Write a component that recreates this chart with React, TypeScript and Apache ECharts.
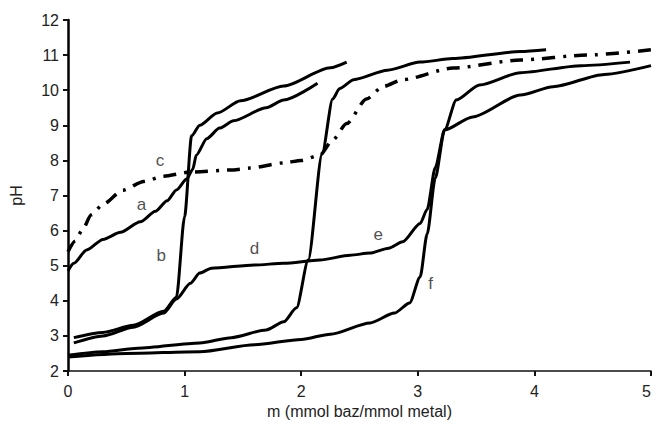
import React, { useEffect, useRef } from "react";
import * as echarts from "echarts";

const xTicks = [0, 1, 2, 3, 4, 5];
const yTicks = [2, 3, 4, 5, 6, 7, 8, 9, 10, 11, 12];

const curveA = [
  [0, 4.85], [0.05, 5.07], [0.16, 5.45], [0.3, 5.75], [0.45, 5.95], [0.62, 6.25],
  [0.75, 6.55], [0.85, 6.85], [0.93, 7.16], [1.02, 7.48], [1.07, 7.75], [1.1, 8.15],
  [1.19, 8.62], [1.3, 8.92], [1.42, 9.13], [1.7, 9.5], [1.85, 9.72], [2.14, 10.2],
];
const curveB = [
  [0.05, 2.95], [0.3, 3.1], [0.56, 3.3], [0.82, 3.7], [0.93, 4.1], [1.0, 6.4],
  [1.06, 8.7], [1.13, 9.0], [1.28, 9.35], [1.48, 9.7], [1.85, 10.12], [2.25, 10.64],
  [2.39, 10.8],
];
const curveC = [
  [0, 5.4], [0.06, 5.7], [0.12, 6.0], [0.2, 6.45], [0.3, 6.75], [0.47, 7.15],
  [0.65, 7.4], [0.82, 7.55], [1.05, 7.67], [1.42, 7.73], [1.56, 7.78], [1.85, 7.93],
  [2.0, 8.0], [2.16, 8.15], [2.27, 8.58], [2.39, 9.05], [2.56, 9.75], [2.7, 10.1],
  [2.87, 10.3], [3.3, 10.63], [3.88, 10.86], [4.45, 11.0], [5.0, 11.15],
];
const curveD = [
  [0, 2.45], [0.3, 2.55], [0.6, 2.65], [1.13, 2.8], [1.4, 2.95], [1.7, 3.17],
  [1.85, 3.4], [1.96, 3.8], [2.06, 5.16], [2.18, 8.2], [2.27, 9.75], [2.33, 10.05],
  [2.45, 10.3], [2.74, 10.57], [3.02, 10.8], [3.3, 10.9], [3.88, 11.1], [4.1, 11.15],
];
const curveE = [
  [0.05, 2.8], [0.3, 3.0], [0.56, 3.25], [0.82, 3.65], [0.93, 4.05], [1.05, 4.5],
  [1.13, 4.79], [1.23, 4.93], [1.6, 5.02], [1.85, 5.07], [2.16, 5.16], [2.42, 5.3],
  [2.59, 5.36], [2.75, 5.5], [2.87, 5.68], [3.02, 6.2], [3.08, 6.6], [3.15, 7.8],
  [3.23, 8.87], [3.33, 9.72], [3.53, 10.15], [3.88, 10.5], [4.4, 10.7], [4.82, 10.8],
];
const curveF = [
  [0, 2.4], [0.5, 2.5], [1.13, 2.55], [1.6, 2.75], [2.0, 2.9], [2.25, 3.05],
  [2.59, 3.37], [2.8, 3.65], [2.93, 3.94], [3.02, 4.68], [3.08, 5.9], [3.15, 7.5],
  [3.23, 8.87], [3.47, 9.24], [3.88, 9.86], [4.16, 10.1], [4.6, 10.45], [5.0, 10.7],
];

const curveLabels = ["a", "b", "c", "d", "e", "f"];
const labelPositions = [
  [0.63, 6.73], [0.8, 5.3], [0.79, 8.0], [1.6, 5.5], [2.66, 5.9], [3.11, 4.5],
];

const FONT = "Liberation Sans";

export default function App() {
  const ref = useRef<HTMLDivElement>(null);
  useEffect(() => {
    if (!ref.current) return;
    const chart = echarts.init(ref.current, undefined, { renderer: "svg" });
    const solid = (name: string, data: number[][]) => ({
      name,
      type: "line",
      data,
      showSymbol: false,
      smooth: 0.25,
      smoothMonotone: "x",
      lineStyle: { color: "#000", width: 3 },
      silent: true,
    });
    chart.setOption({
      animation: false,
      backgroundColor: "#fff",
      grid: {
        left: 68,
        right: 2,
        top: 20,
        bottom: 57,
        containLabel: false,
        outerBoundsMode: "none",
      },
      xAxis: {
        type: "value",
        min: xTicks[0],
        max: xTicks[xTicks.length - 1],
        interval: 1,
        name: "m (mmol baz/mmol metal)",
        nameLocation: "middle",
        nameGap: 31,
        nameTextStyle: { color: "#222", fontSize: 16, fontFamily: FONT },
        axisLine: { onZero: false, lineStyle: { color: "#111", width: 1.5 } },
        axisTick: { show: true, length: 5, lineStyle: { color: "#111", width: 2 } },
        axisLabel: {
          color: "#222",
          fontSize: 16,
          fontFamily: FONT,
          margin: 12,
          alignMaxLabel: "right",
        },
        splitLine: { show: false },
      },
      yAxis: {
        type: "value",
        min: yTicks[0],
        max: yTicks[yTicks.length - 1],
        interval: 1,
        name: "pH",
        nameLocation: "middle",
        nameGap: 44,
        nameRotate: 90,
        nameTextStyle: { color: "#222", fontSize: 16, fontFamily: FONT },
        axisLine: { onZero: false, lineStyle: { color: "#000", width: 2.5 } },
        axisTick: { show: true, length: 5, lineStyle: { color: "#111", width: 2 } },
        axisLabel: { color: "#222", fontSize: 16, fontFamily: FONT, margin: 9 },
        splitLine: { show: false },
      },
      series: [
        solid("a", curveA),
        solid("b", curveB),
        {
          name: "c",
          type: "line",
          data: curveC,
          showSymbol: false,
          smooth: 0.25,
          smoothMonotone: "x",
          lineStyle: { color: "#000", width: 3.5, type: [13, 8, 3, 8] },
          silent: true,
        },
        solid("d", curveD),
        solid("e", curveE),
        solid("f", curveF),
        {
          name: "labels",
          type: "scatter",
          symbolSize: 1,
          itemStyle: { color: "rgba(0,0,0,0)" },
          data: labelPositions.map((p, i) => ({ value: p, name: curveLabels[i] })),
          label: {
            show: true,
            position: "inside",
            formatter: (p: any) => p.name,
            color: "#222",
            fontSize: 17,
            fontFamily: FONT,
          },
          silent: true,
        },
      ],
    });
    return () => chart.dispose();
  }, []);
  return (
    <div
      ref={ref}
      style={{ position: "fixed", left: 0, top: 0, width: 653, height: 428 }}
    />
  );
}
